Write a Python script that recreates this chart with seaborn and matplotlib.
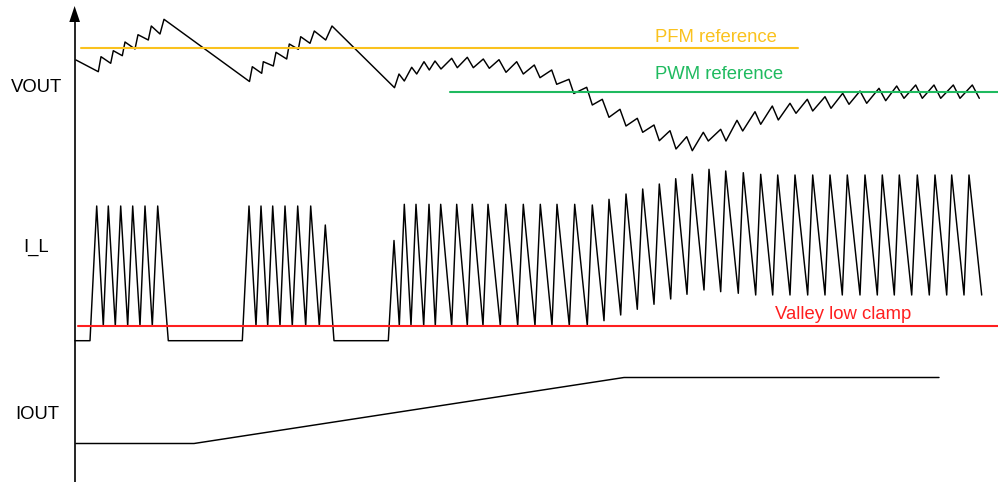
import matplotlib
matplotlib.use("Agg")
import matplotlib.pyplot as plt
import pandas as pd
import seaborn as sns

# ---- waveform data (time, level); level grows downward like a scope trace ----
vout_t = [76, 98.3, 101, 110.7, 113.3, 122.3, 125, 135, 138, 148.3, 151.3, 160, 164,
          249.5, 252.3, 261.7, 263.3, 273.3, 276, 286.7, 289.3, 298.3, 300.7, 310, 314.3, 325.7, 332,
          394.5, 399, 404.3, 411.7, 416.7, 424, 429.3, 435, 441, 451.7, 457.3, 467.3, 473.3,
          483.3, 489.3, 499, 506, 516.7, 523.3, 534.3, 540, 551.7, 556.7, 569, 573.8,
          586.7, 592.3, 602.3, 609, 620, 626, 637.3, 642.7, 654, 659.3, 670, 676,
          686.7, 692.3, 703.3, 708.3, 720.7, 726, 737, 742.7, 755, 760.7, 772.3, 778.3,
          790, 796, 807.3, 812.7, 825, 831, 842.7, 849, 860, 866.7, 879, 885.7,
          896.7, 904, 915.7, 922.3, 934, 940.7, 953.3, 960, 972.3, 979.3]
vout_v = [60, 71.7, 56.7, 63.3, 50.7, 55.7, 42, 49, 34.7, 40, 26, 34, 19.3,
          81.5, 66.7, 73.3, 61.7, 66, 52.3, 59, 44, 49.3, 36.7, 43.3, 31, 40, 26,
          87.7, 74, 81, 67.3, 74, 61.7, 70, 61, 69, 58.3, 67.7, 57.3, 67.7,
          59, 68.3, 59.7, 72.3, 61.7, 74, 65, 77.7, 70, 84.3, 79.3, 93.5,
          87.3, 105, 99.3, 117.3, 109.3, 126, 118.3, 132.3, 125, 140.7, 130.7, 149,
          136.7, 150.7, 132.3, 141, 129.3, 141, 120.3, 131, 111.7, 124.3, 106, 120,
          103.3, 113.3, 99.3, 111, 96.7, 108.3, 93.3, 104.3, 91, 103.3, 88.3, 100.7,
          86, 98.3, 85, 98.3, 85, 98.3, 85, 98.3, 85, 98.3]

il_t = [75, 90, 96.7, 103.3, 108.3, 115.3, 120.7, 127.7, 132.7, 140, 145, 152.3, 157.7, 168.3,
        242.3, 249, 256, 261, 267.7, 272.7, 280, 285, 292.3, 297.7, 305.7, 310.7, 319.3, 325.3, 334,
        388.3, 394, 399.3, 404.3, 411, 416, 423.7, 429, 435.3, 440.7, 451.7, 456.7, 467.3, 472.3,
        483, 488, 500.3, 505.7, 517.7, 523.3, 535, 540.3, 552, 557, 569.3, 574.7, 587.3, 592.3,
        604, 609, 620.7, 626, 637.3, 642.7, 654, 659.3, 670.7, 675.7, 687, 692.3, 704, 709,
        720.7, 725.7, 738.3, 743.3, 755.7, 760.7, 772.7, 777.7, 790, 795, 807.7, 812.7, 825, 830,
        842.3, 847.3, 860, 865, 877.3, 882.3, 894.3, 899.3, 911.7, 917.3, 929.3, 935, 946.7, 951.7,
        964, 969, 981.7]
il_v = [340.7, 340.7, 206, 326, 206, 326, 206, 326, 206, 326, 206, 326, 206, 340.7,
        340.7, 206, 326, 206, 326, 206, 326, 206, 326, 206, 326, 206, 326, 225, 340.7,
        340.7, 240.5, 325.7, 204.3, 325.7, 204.3, 325.7, 204.3, 325.7, 204.3, 325.7, 204.3, 325.7, 204.3,
        325.7, 204.3, 325.7, 204.3, 325.7, 204.3, 325.7, 204.3, 325.7, 204.3, 325.7, 204.3, 325.7, 205,
        320.7, 199.3, 315, 194, 309.3, 189, 304.3, 184, 299, 178.7, 294.3, 174.3, 290, 169.3,
        291.7, 171, 293.3, 172.7, 295, 174.3, 295, 175, 295, 175, 295, 175, 295, 175,
        295, 175, 295, 175, 295, 175, 295, 175, 295, 175, 295, 175, 295, 175,
        295, 175, 295]

iout_t = [76, 194, 624, 939]
iout_v = [443.5, 443.5, 377.5, 377.5]

# reference thresholds: (level, start, end)
pfm_ref = (47.5, 81, 798)
pwm_ref = (92, 450, 998)
valley_clamp = (325.7, 78, 998)

signal_names = ["VOUT", "I_L", "IOUT"]
signal_label_pos = [(37, 87.5), (36.5, 247.5), (37, 414.5)]

sns.set_theme(style="white")
plt.rcParams["font.family"] = ["Liberation Sans", "DejaVu Sans"]

fig = plt.figure(figsize=(9.98, 4.82), dpi=100)
ax = fig.add_axes([0, 0, 1, 1])

traces = [(vout_t, vout_v), (il_t, il_v), (iout_t, iout_v)]
for t, v in traces:
    df = pd.DataFrame({"t": t, "level": v})
    sns.lineplot(data=df, x="t", y="level", sort=False, estimator=None,
                 color="black", lw=1.05, ax=ax)

refs = [(pfm_ref, "#FAC21E", "PFM reference", 716, 37.5),
        (pwm_ref, "#1FBA5F", "PWM reference", 719, 74.5),
        (valley_clamp, "#FF1F1F", "Valley low clamp", 843, 314.5)]
for (lvl, x0, x1), col, label, lx, ly in refs:
    ref_df = pd.DataFrame({"t": [x0, x1], "level": [lvl, lvl]})
    sns.lineplot(data=ref_df, x="t", y="level", color=col, lw=1.5, ax=ax)
    ax.text(lx, ly, label, color=col, fontsize=13.3, ha="center", va="center")

for name, (lx, ly) in zip(signal_names, signal_label_pos):
    ax.text(lx, ly, name, color="black", fontsize=13.3, ha="center", va="center")

# time axis: vertical line with arrow head
ax.plot([74.6, 74.6], [20, 482], color="black", lw=1.2, solid_capstyle="butt")
ax.fill([69.3, 80, 74.6], [22, 22, 6], color="black", lw=0)

ax.set_xlim(0, 998)
ax.set_ylim(482, 0)
ax.set_axis_off()

fig.savefig("out.png", dpi=100)
